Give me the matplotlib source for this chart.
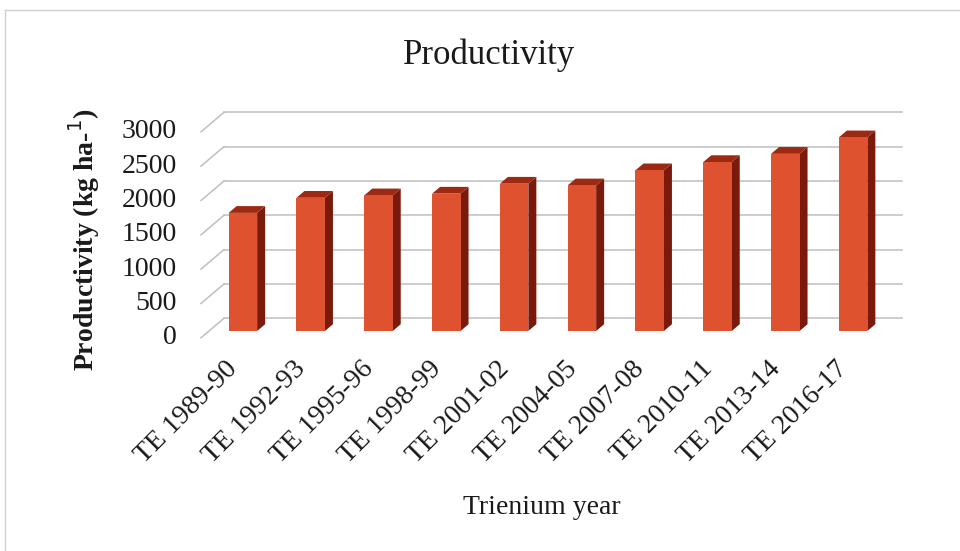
import matplotlib
matplotlib.use("Agg")
import matplotlib.pyplot as plt
from matplotlib.patches import Polygon

# ---- data ----
categories = ["TE 1989-90", "TE 1992-93", "TE 1995-96", "TE 1998-99", "TE 2001-02",
              "TE 2004-05", "TE 2007-08", "TE 2010-11", "TE 2013-14", "TE 2016-17"]
productivity = [1720, 1940, 1975, 2000, 2145, 2120, 2340, 2460, 2580, 2820]
y_ticks = [0, 500, 1000, 1500, 2000, 2500, 3000]

SERIF = ["Liberation Serif", "DejaVu Serif"]
FRONT = "#DF5230"
SIDE = "#7A1A0C"
TOP = "#9C2A12"
GRID = "#BFBFBF"

W, H, DPI = 960, 551, 100
fig = plt.figure(figsize=(W / DPI, H / DPI), dpi=DPI)

# axes = plane of the column front faces (pixel extents)
left_px, right_px, bottom_px, top_px = 209, 887, 331, 125
ymax = y_ticks[-1]
n = len(categories)
ax = fig.add_axes([left_px / W, 1 - bottom_px / H,
                   (right_px - left_px) / W, (bottom_px - top_px) / H])
ax.set_xlim(-0.5, n - 0.5)
ax.set_ylim(0, ymax)
ax.axis("off")

px_x = (right_px - left_px) / n        # pixels per category
px_y = (bottom_px - top_px) / ymax     # pixels per value unit


def off(dx, dy):
    """pixel offset -> data offset"""
    return dx / px_x, dy / px_y


# oblique depth: back wall / floor front / column depth
bx, by = off(15, 12.7)
fx, fy = off(-8, -6.8)
cx, cy = off(8, 6.8)

# back-wall gridlines and side-wall lines
for v in y_ticks:
    ax.plot([-0.5 + bx, n - 0.5 + bx], [v + by, v + by], color=GRID, lw=1.1,
            clip_on=False, zorder=1)
    ax.plot([-0.5 + fx, -0.5 + bx], [v + fy, v + by], color=GRID, lw=1.1,
            clip_on=False, zorder=1)

# columns
bw = 0.42
xs = list(range(n))
ax.bar(xs, productivity, width=bw, color=FRONT, zorder=3, clip_on=False)
for x, v in zip(xs, productivity):
    xl, xr = x - bw / 2, x + bw / 2
    ax.add_patch(Polygon([(xr, 0), (xr, v), (xr + cx, v + cy), (xr + cx, cy)],
                         closed=True, facecolor=SIDE, edgecolor="none",
                         zorder=2.9, clip_on=False))
    ax.add_patch(Polygon([(xl, v), (xr, v), (xr + cx, v + cy), (xl + cx, v + cy)],
                         closed=True, facecolor=TOP, edgecolor="none",
                         zorder=2.9, clip_on=False))

# value axis labels
lab_x = -0.5 + (177 - left_px) / px_x
for v in y_ticks:
    ax.text(lab_x, v + fy, f"{v}", ha="right", va="center", fontsize=20,
            family=SERIF, color="#1a1a1a")

# category labels
dxl, dyl = off(-9, -34)
for x, c in zip(xs, categories):
    ax.text(x + dxl, dyl, c, rotation=45, ha="right", va="center",
            rotation_mode="anchor", fontsize=20, family=SERIF, color="#1a1a1a")

# titles
fig.text(489 / W, 1 - 64 / H, "Productivity", ha="center", va="baseline",
         fontsize=25, family=SERIF, color="#1a1a1a")
fig.text(84 / W, 1 - 240 / H, "Productivity (kg ha-$^{1}$)", rotation=90,
         ha="center", va="center", fontsize=20, fontweight="bold",
         family=SERIF, color="#1a1a1a")
fig.text(542 / W, 1 - 507 / H, "Trienium year", ha="center", va="center",
         fontsize=20, family=SERIF, color="#1a1a1a")

# chart area frame (top and left edges)
fig.add_artist(plt.Line2D([5 / W, 1], [1 - 10 / H, 1 - 10 / H], color="#D0D0D0", lw=1))
fig.add_artist(plt.Line2D([5 / W, 5 / W], [0, 1 - 10 / H], color="#D0D0D0", lw=1))

fig.savefig("out.png", dpi=DPI)
